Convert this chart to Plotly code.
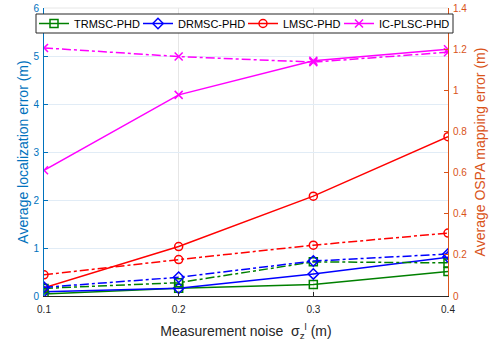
import plotly.graph_objects as go

noise = [0.1, 0.2, 0.3, 0.4]
names = ["TRMSC-PHD", "DRMSC-PHD", "LMSC-PHD", "IC-PLSC-PHD"]
# localization error (left axis, solid)
loc_tr = [0.04, 0.16, 0.24, 0.51]
loc_dr = [0.09, 0.16, 0.46, 0.81]
loc_lm = [0.17, 1.03, 2.08, 3.32]
loc_ic = [2.62, 4.19, 4.90, 5.14]
# OSPA mapping error (right axis, dash-dot)
map_tr = [0.037, 0.065, 0.166, 0.161]
map_dr = [0.042, 0.091, 0.170, 0.204]
map_lm = [0.103, 0.177, 0.247, 0.306]
map_ic = [1.206, 1.164, 1.137, 1.185]

colors = ["#008000", "#0000FF", "#FF0000", "#FF00FF"]
symbols = ["square-open", "diamond-open", "circle-open", "x-thin-open"]
loc = [loc_tr, loc_dr, loc_lm, loc_ic]
mp = [map_tr, map_dr, map_lm, map_ic]

# plot area in pixels (for placing the legend boxes)
W, H = 493, 347
L, R, T, B = 44, 45, 8, 51
pw, ph = W - L - R, H - T - B
def px(x):
    return (x - L) / pw
def py(y):
    return (H - B - y) / ph

legend_left_px = [34, 138, 243, 339]
legend_ids = ["legend", "legend2", "legend3", "legend4"]

fig = go.Figure()
for i in range(4):
    fig.add_trace(go.Scatter(
        x=noise, y=mp[i], mode="lines+markers", yaxis="y2", showlegend=False,
        line=dict(color=colors[i], width=1.5, dash="dashdot"),
        marker=dict(symbol=symbols[i], size=8, color=colors[i], line=dict(width=1.5, color=colors[i]))))
for i in range(4):
    fig.add_trace(go.Scatter(
        x=noise, y=loc[i], mode="lines+markers", name=names[i], legend=legend_ids[i],
        line=dict(color=colors[i], width=1.5),
        marker=dict(symbol=symbols[i], size=8, color=colors[i], line=dict(width=1.5, color=colors[i]))))

legend_common = dict(orientation="h", yanchor="middle", y=py(23.5), xanchor="left",
                     bgcolor="rgba(0,0,0,0)", borderwidth=0, itemwidth=30,
                     font=dict(size=11, color="#000000"))
leg_layout = {}
for i in range(4):
    leg_layout[legend_ids[i]] = dict(legend_common, x=px(legend_left_px[i]))

fig.update_layout(
    width=W, height=H,
    margin=dict(l=L, r=R, t=T, b=B, autoexpand=False),
    paper_bgcolor="white", plot_bgcolor="white",
    font=dict(family="Liberation Sans, Arial, sans-serif", size=10, color="#262626"),
    xaxis=dict(
        range=[0.1, 0.4], tickvals=[0.1, 0.2, 0.3, 0.4], ticktext=["0.1", "0.2", "0.3", "0.4"],
        showgrid=True, gridcolor="#E6E6E6", gridwidth=1,
        showline=True, linecolor="#262626", linewidth=1, mirror=False,
        ticks="inside", ticklen=4, tickcolor="#262626", zeroline=False,
        ticklabelstandoff=4,
        title=dict(text="Measurement noise  σ<sub>z</sub><sup>l</sup> (m)", font=dict(size=14, color="#262626"), standoff=12),
    ),
    yaxis=dict(
        range=[0, 6], tickvals=[0, 1, 2, 3, 4, 5, 6],
        showgrid=True, gridcolor="#E1ECF6", gridwidth=1,
        showline=True, linecolor="#0072BD", linewidth=1,
        ticks="inside", ticklen=4, tickcolor="#0072BD", zeroline=False,
        tickfont=dict(color="#0072BD", size=10), ticklabelstandoff=2,
        title=dict(text="Average localization error (m)", font=dict(size=14, color="#0072BD"), standoff=1),
    ),
    yaxis2=dict(
        range=[0, 1.4], tickvals=[0, 0.2, 0.4, 0.6, 0.8, 1.0, 1.2, 1.4],
        ticktext=["0", "0.2", "0.4", "0.6", "0.8", "1", "1.2", "1.4"],
        overlaying="y", side="right", showgrid=False,
        showline=True, linecolor="#D95319", linewidth=1,
        ticks="inside", ticklen=4, tickcolor="#D95319", zeroline=False,
        tickfont=dict(color="#D95319", size=10), ticklabelstandoff=2,
        title=dict(text="Average OSPA mapping error (m)", font=dict(size=14, color="#D95319"), standoff=8),
    ),
    **leg_layout,
)
fig.add_shape(type="line", xref="paper", yref="paper", x0=0, x1=1, y0=1, y1=1,
              line=dict(color="#E6E6E6", width=1))
fig.add_shape(type="rect", xref="paper", yref="paper", layer="above",
              x0=px(36), x1=px(453), y0=py(33), y1=py(14),
              fillcolor="white", line=dict(color="#262626", width=1))

fig.write_html("out.html")
